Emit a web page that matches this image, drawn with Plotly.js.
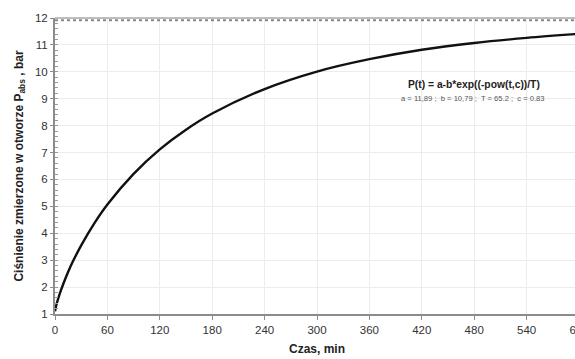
<!DOCTYPE html>
<html><head><meta charset="utf-8">
<script src="https://cdn.plot.ly/plotly-3.0.1.min.js"></script>
<style>html,body{margin:0;padding:0;overflow:hidden;background:#fff;width:575px;height:359px}</style>
</head><body><div id="chart"></div>
<script>
// Values
const timeMin = [0, 1, 2, 5, 10, 15, 20, 30, 45, 60, 90, 120, 150, 180, 240, 300, 360, 420, 480, 540, 600];
const pressureBar = [1.10, 1.26, 1.39, 1.71, 2.16, 2.56, 2.92, 3.55, 4.37, 5.07, 6.21, 7.12, 7.85, 8.45, 9.36, 10.01, 10.47, 10.82, 11.07, 11.26, 11.41];
const xTicks = [0, 60, 120, 180, 240, 300, 360, 420, 480, 540, 600];
const yTicks = [1, 2, 3, 4, 5, 6, 7, 8, 9, 10, 11, 12];
const formulaText = 'P(t) = a-b*exp((-pow(t,c))/T)';
const paramText = 'a = 11,89 ;  b = 10,79 ;  T = 65.2 ;  c = 0.83';

const trace = {
  x: timeMin, y: pressureBar, type: 'scatter', mode: 'lines',
  line: {color: '#111', width: 2.4, shape: 'spline'},
  hoverinfo: 'skip', showlegend: false
};
const layout = {
  width: 600, height: 359,
  margin: {l: 55, r: 21, t: 18, b: 45},
  paper_bgcolor: '#fff', plot_bgcolor: '#fff',
  font: {family: 'Liberation Sans, Arial, sans-serif', size: 11, color: '#333'},
  xaxis: {
    range: [0, 600], tickvals: xTicks, ticktext: xTicks.map(String),
    showgrid: true, gridcolor: '#ececec', gridwidth: 1,
    showline: true, linecolor: '#8c8c8c', linewidth: 2, mirror: false,
    ticks: 'outside', ticklen: 4, tickcolor: '#8c8c8c',
    zeroline: false, tickfont: {size: 11.5, color: '#333'},
    title: {text: 'Czas, min', font: {size: 12, color: '#222', family: 'Liberation Sans, Arial, sans-serif', weight: 'bold'}, standoff: 10}
  },
  yaxis: {
    range: [1, 12], tickvals: yTicks, ticktext: yTicks.map(String),
    showgrid: true, gridcolor: '#ececec', gridwidth: 1,
    showline: true, linecolor: '#8c8c8c', linewidth: 2,
    ticks: 'outside', ticklen: 3, tickcolor: '#8c8c8c',
    minor: {dtick: 0.2, ticks: 'inside', ticklen: 3, tickcolor: '#9a9a9a', showgrid: false},
    zeroline: false, tickfont: {size: 11.5, color: '#333'},
    title: {text: 'Ciśnienie zmierzone w otworze P<sub>abs</sub> , bar', font: {size: 12, color: '#222', family: 'Liberation Sans, Arial, sans-serif', weight: 'bold'}, standoff: 9}
  },
  shapes: [
    {type: 'line', xref: 'paper', yref: 'paper', x0: 0, x1: 1, y0: 1, y1: 1, line: {color: '#bdbdbd', width: 2}},
    {type: 'line', xref: 'paper', yref: 'paper', x0: 0, x1: 1, y0: 0.992, y1: 0.992, line: {color: '#888', width: 2, dash: 'dot'}}
  ],
  annotations: [
    {text: '<b>' + formulaText + '</b>', xref: 'x', yref: 'y', x: 402, y: 9.52, xanchor: 'left', yanchor: 'middle', showarrow: false, font: {size: 10.3, color: '#222'}},
    {text: paramText, xref: 'x', yref: 'y', x: 394, y: 9.02, xanchor: 'left', yanchor: 'middle', showarrow: false, font: {size: 7.6, color: '#555'}}
  ]
};
Plotly.newPlot('chart', [trace], layout, {displayModeBar: false, staticPlot: true});
</script></body></html>
